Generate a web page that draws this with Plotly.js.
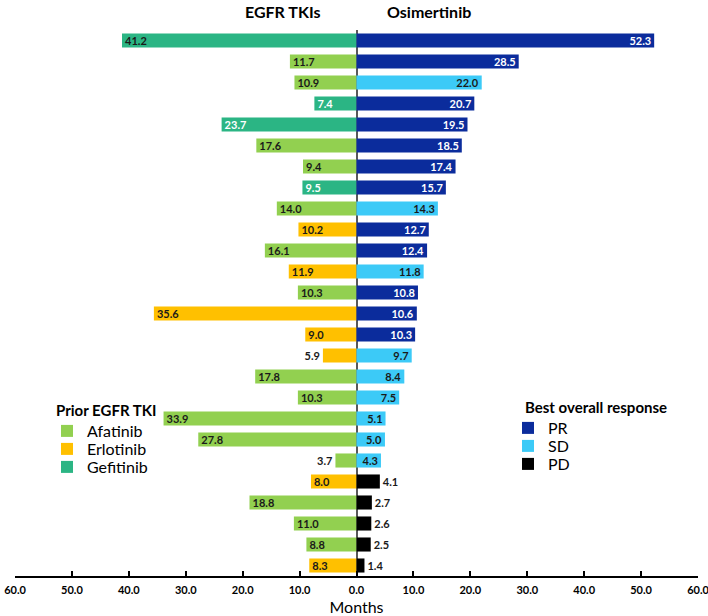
<!DOCTYPE html>
<html>
<head>
<meta charset="utf-8">
<script src="https://cdn.plot.ly/plotly-3.0.1.min.js"></script>
<style>html,body{margin:0;padding:0;background:#fff;}#chart{width:708px;height:616px;}</style>
</head>
<body>
<div id="chart"></div>
<script>
// ---- Data ----
const priorMonths = [41.2, 11.7, 10.9, 7.4, 23.7, 17.6, 9.4, 9.5, 14.0, 10.2, 16.1, 11.9, 10.3, 35.6, 9.0, 5.9, 17.8, 10.3, 33.9, 27.8, 3.7, 8.0, 18.8, 11.0, 8.8, 8.3];
const priorDrug = ['Gefitinib','Afatinib','Afatinib','Gefitinib','Gefitinib','Afatinib','Afatinib','Gefitinib','Afatinib','Erlotinib','Afatinib','Erlotinib','Afatinib','Erlotinib','Erlotinib','Erlotinib','Afatinib','Afatinib','Afatinib','Afatinib','Afatinib','Erlotinib','Afatinib','Afatinib','Afatinib','Erlotinib'];
const osiMonths = [52.3, 28.5, 22.0, 20.7, 19.5, 18.5, 17.4, 15.7, 14.3, 12.7, 12.4, 11.8, 10.8, 10.6, 10.3, 9.7, 8.4, 7.5, 5.1, 5.0, 4.3, 4.1, 2.7, 2.6, 2.5, 1.4];
const osiResponse = ['PR','PR','SD','PR','PR','PR','PR','PR','SD','PR','PR','SD','PR','PR','PR','SD','SD','SD','SD','SD','SD','PD','PD','PD','PD','PD'];
const drugNames = ['Afatinib','Erlotinib','Gefitinib'];
const responseNames = ['PR','SD','PD'];
const tickValues = [-60,-50,-40,-30,-20,-10,0,10,20,30,40,50,60];
const tickLabels = ['60.0','50.0','40.0','30.0','20.0','10.0','0.0','10.0','20.0','30.0','40.0','50.0','60.0'];

// ---- Styles ----
const drugColors = {Afatinib:'#92D050', Erlotinib:'#FFC000', Gefitinib:'#2BB584'};
const respColors = {PR:'#0B2C9C', SD:'#3CCAF7', PD:'#000000'};
const FONT = 'Lato, "Open Sans", sans-serif';
const DARK = '#1a1a1a';
// plot area geometry (px) used to place legends
const PL = 15, PW = 683, PT = 30, PH = 546;
const px2x = p => (p - PL) / PW;
const px2y = p => 1 - (p - PT) / PH;

const drugLegend = {Afatinib:'legend', Erlotinib:'legend3', Gefitinib:'legend4'};
const respLegend = {PR:'legend2', SD:'legend5', PD:'legend6'};
const drugLegendY = {Afatinib:431, Erlotinib:449, Gefitinib:467};
const respLegendY = {PR:428, SD:446, PD:464};

const traces = [];
drugNames.forEach(d => {
  const idx = priorDrug.map((v,i)=>v===d?i:-1).filter(i=>i>=0);
  traces.push({
    type:'bar', orientation:'h', name:d, legend:drugLegend[d],
    y: idx, x: idx.map(i=>-priorMonths[i]),
    text: idx.map(i=>priorMonths[i].toFixed(1)),
    textposition: idx.map(i=>priorMonths[i] < 7 ? 'outside' : 'inside'),
    insidetextanchor:'end', textangle:0, constraintext:'none', cliponaxis:false,
    textfont:{family:FONT, size:11, weight:'bold',
      color: idx.map(i=>(d==='Gefitinib' && i>0) ? '#ffffff' : DARK)},
    marker:{color:drugColors[d]},
    hoverinfo:'skip'
  });
});
responseNames.forEach(r => {
  const idx = osiResponse.map((v,i)=>v===r?i:-1).filter(i=>i>=0);
  traces.push({
    type:'bar', orientation:'h', name:r, legend:respLegend[r],
    y: idx, x: idx.map(i=>osiMonths[i]),
    text: idx.map(i=>osiMonths[i].toFixed(1)),
    textposition: r==='PD' ? 'outside' : 'inside',
    insidetextanchor:'end', textangle:0, constraintext:'none', cliponaxis:false,
    textfont:{family:FONT, size:11, weight:'bold',
      color: r==='PR' ? '#ffffff' : DARK},
    marker:{color:respColors[r]},
    hoverinfo:'skip'
  });
});

function legendAt(xpx, ypx){
  return {x:px2x(xpx), y:px2y(ypx), xanchor:'left', yanchor:'middle',
    font:{family:FONT, size:16, color:'#000'}, bgcolor:'rgba(0,0,0,0)',
    borderwidth:0, tracegroupgap:0};
}

const layout = {
  width:708, height:616,
  margin:{l:PL, r:708-PL-PW, t:PT, b:616-PT-PH},
  paper_bgcolor:'#ffffff', plot_bgcolor:'#ffffff',
  barmode:'relative', bargap:0.33,
  font:{family:FONT, color:'#000'},
  showlegend:true,
  xaxis:{
    range:[-60,60], tickvals:tickValues, ticktext:tickLabels,
    tickfont:{family:FONT, size:11, weight:'bold', color:'#000'},
    ticks:'inside', ticklen:5, tickwidth:2, tickcolor:'#000',
    ticklabeloverflow:'allow', ticklabelstandoff:3,
    showline:true, linecolor:'#000', linewidth:2,
    showgrid:false, zeroline:true, zerolinecolor:'#595959', zerolinewidth:2,
    title:{text:'Months', font:{family:FONT, size:16, color:'#000'}, standoff:9},
    fixedrange:true
  },
  yaxis:{range:[25.5,-0.5], showticklabels:false, showgrid:false, zeroline:false, showline:false, ticks:'', fixedrange:true},
  legend: legendAt(47, drugLegendY.Afatinib),
  legend3: legendAt(47, drugLegendY.Erlotinib),
  legend4: legendAt(47, drugLegendY.Gefitinib),
  legend2: legendAt(508, respLegendY.PR),
  legend5: legendAt(508, respLegendY.SD),
  legend6: legendAt(508, respLegendY.PD),
  annotations:[
    {text:'EGFR TKIs', xref:'paper', yref:'paper', x:px2x(282), y:1, yshift:19, showarrow:false, xanchor:'center', yanchor:'middle', font:{family:FONT, size:16, weight:'bold', color:'#000'}},
    {text:'Osimertinib', xref:'paper', yref:'paper', x:px2x(429), y:1, yshift:19, showarrow:false, xanchor:'center', yanchor:'middle', font:{family:FONT, size:16, weight:'bold', color:'#000'}},
    {text:'Prior EGFR TKI', xref:'paper', yref:'paper', x:px2x(54), y:px2y(410), showarrow:false, xanchor:'left', yanchor:'middle', font:{family:FONT, size:15, weight:'bold', color:'#000'}},
    {text:'Best overall response', xref:'paper', yref:'paper', x:px2x(523), y:px2y(407), showarrow:false, xanchor:'left', yanchor:'middle', font:{family:FONT, size:15, weight:'bold', color:'#000'}}
  ]
};

Plotly.newPlot('chart', traces, layout, {displayModeBar:false, staticPlot:true});
</script>
</body>
</html>
